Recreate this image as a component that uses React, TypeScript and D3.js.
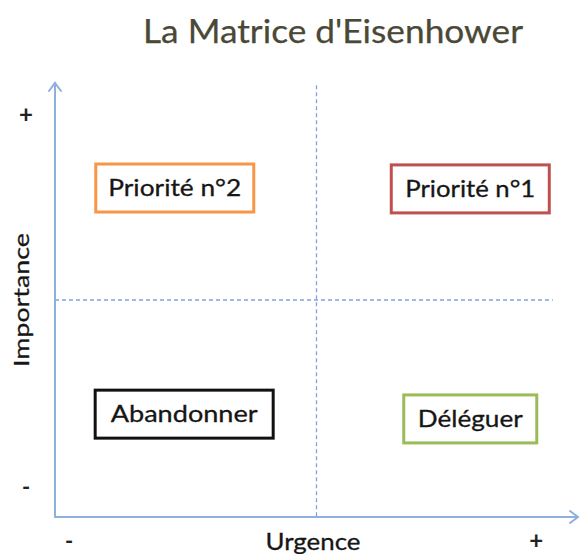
import React from "react";
import * as d3 from "d3";

const W = 579;
const H = 554;

// ---- data ----
const title = "La Matrice d'Eisenhower";
const xAxisLabel = "Urgence";
const yAxisLabel = "Importance";
const xTickLabels = ["-", "+"];
const xTickValues = [0.027, 0.92];
const yTickLabels = ["-", "+"];
const yTickValues = [0.069, 0.926];
const quadrantLabels = ["Priorité n°2", "Priorité n°1", "Abandonner", "Déléguer"];
const quadrantUrgence = [0.229, 0.794, 0.247, 0.794];
const quadrantImportance = [0.758, 0.756, 0.237, 0.226];
const quadrantColors = ["#F79646", "#C0504D", "#111111", "#9BBB59"];
const splitValue = 0.5;

// ---- layout ----
const textWidths = [133, 130, 147, 105];
const boxWidths = [158, 158, 178, 133];
const BOX_H = 48;
const FONT = "Lato, Carlito, 'Open Sans', sans-serif";
const AXIS_COLOR = "#8EB0DF";
const DASH_COLOR = "#7FA4D9";
const TEXT_COLOR = "#161616";

export default function App() {
  const x = d3.scaleLinear().domain([0, 1]).range([55, 578]);
  const y = d3.scaleLinear().domain([0, 1]).range([517, 83]);
  const x0 = x(0), y0 = y(0), x1 = x(1), y1 = y(1);

  return (
    <svg
      width={W}
      height={H}
      style={{ position: "absolute", left: 0, top: 0, background: "#fff" }}
      fontFamily={FONT}
    >
      <rect width={W} height={H} fill="#fff" />
      {/* title */}
      <text x={333} y={43} textAnchor="middle" fontSize={32} fill="#4A4836"
        stroke="#4A4836" strokeWidth={0.25}
        textLength={380} lengthAdjust="spacingAndGlyphs">{title}</text>

      {/* dashed quadrant separators */}
      <line x1={x(splitValue)} x2={x(splitValue)} y1={y(0.995)} y2={y0}
        stroke={DASH_COLOR} strokeWidth={1.3} strokeDasharray="4,3" />
      <line x1={x0} x2={x(0.952)} y1={y(splitValue)} y2={y(splitValue)}
        stroke={DASH_COLOR} strokeWidth={1.3} strokeDasharray="4,3" />

      {/* axes */}
      <g stroke={AXIS_COLOR} strokeWidth={2} fill="none" strokeLinecap="round">
        <line x1={x0} x2={x0} y1={y0} y2={y1} />
        <line x1={x0} x2={x1} y1={y0} y2={y0} />
        <polyline points={`${x0 - 6},${y1 + 8} ${x0},${y1} ${x0 + 6},${y1 + 8}`} />
        <polyline points={`${x1 - 8},${y0 - 6} ${x1},${y0} ${x1 - 8},${y0 + 6}`} />
      </g>

      {/* tick labels */}
      {xTickLabels.map((t, i) => (
        <text key={"xt" + i} x={x(xTickValues[i])} y={549} textAnchor="middle"
          fontSize={t === "+" ? 24 : 22} fontWeight={700} fill="#222">{t}</text>
      ))}
      {yTickLabels.map((t, i) => (
        <text key={"yt" + i} x={26} y={y(yTickValues[i]) + 8} textAnchor="middle"
          fontSize={t === "+" ? 24 : 22} fontWeight={700} fill="#222">{t}</text>
      ))}

      {/* axis labels */}
      <text x={313} y={550} textAnchor="middle" fontSize={24} fill={TEXT_COLOR}
        stroke={TEXT_COLOR} strokeWidth={0.3}
        textLength={95} lengthAdjust="spacingAndGlyphs">{xAxisLabel}</text>
      <text transform={`translate(29,${y(splitValue)}) rotate(-90)`} textAnchor="middle"
        fontSize={22} fill={TEXT_COLOR} stroke={TEXT_COLOR} strokeWidth={0.3}
        textLength={134} lengthAdjust="spacingAndGlyphs">{yAxisLabel}</text>

      {/* quadrant boxes */}
      {quadrantLabels.map((lab, i) => {
        const cx = x(quadrantUrgence[i]);
        const cy = y(quadrantImportance[i]);
        const bw = boxWidths[i];
        return (
          <g key={lab}>
            <rect x={cx - bw / 2} y={cy - BOX_H / 2} width={bw} height={BOX_H}
              fill="#fff" stroke={quadrantColors[i]} strokeWidth={3} />
            <text x={cx} y={cy + 8} textAnchor="middle" fontSize={23} fill={TEXT_COLOR}
              stroke={TEXT_COLOR} strokeWidth={0.3}
              textLength={textWidths[i]} lengthAdjust="spacingAndGlyphs">{lab}</text>
          </g>
        );
      })}
    </svg>
  );
}
